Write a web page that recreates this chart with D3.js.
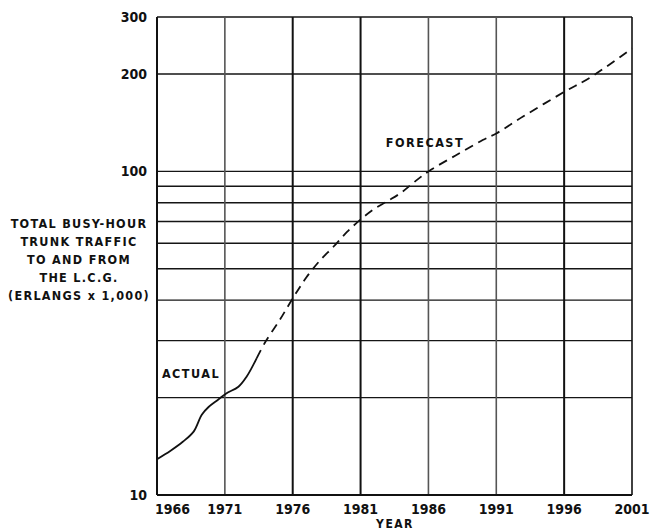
<!DOCTYPE html>
<html>
<head>
<meta charset="utf-8">
<script src="https://cdn.jsdelivr.net/npm/d3@7"></script>
<style>
  body { margin: 0; background: #fff; }
  svg text { font-family: "DejaVu Sans Condensed", "DejaVu Sans", sans-serif; font-weight: bold; fill: #111; }
</style>
</head>
<body>
<svg id="chart" width="652" height="531"></svg>
<script>
// years and traffic (erlangs x 1,000)
var actualYears = [1966, 1967, 1967.9, 1968.7, 1969.3, 1969.8, 1970.5, 1971.1, 1972, 1972.6, 1973.35];
var actualValues = [12.9, 13.7, 14.6, 15.7, 17.7, 18.7, 19.7, 20.6, 21.6, 23.2, 26.5];

var forecastYears = [1973.35, 1974, 1975, 1976, 1977, 1978, 1979, 1980, 1981, 1982, 1983, 1984, 1985, 1986, 1988, 1990, 1991, 1993, 1996, 1998, 2001];
var forecastValues = [26.5, 29.8, 34.5, 40.5, 47, 53, 58.5, 65, 71, 76.5, 81, 86, 93, 100, 112, 125, 131, 148, 176, 196, 240];

var yearTicks = [1966, 1971, 1976, 1981, 1986, 1991, 1996, 2001];
var valueGrid = [20, 30, 40, 50, 60, 70, 80, 90, 100, 200, 300];
var valueLabels = [10, 100, 200, 300];
var axisTitle = ["TOTAL BUSY-HOUR", "TRUNK TRAFFIC", "TO AND FROM", "THE L.C.G.", "(ERLANGS x 1,000)"];

var plotLeft = 157, plotRight = 632, plotTop = 17, plotBottom = 495;
var svg = d3.select("#chart");

var x = d3.scaleLinear().domain([1966, 2001]).range([plotLeft, plotRight]);
var y = d3.scaleLog().domain([10, 300]).range([plotBottom, plotTop]);

// horizontal grid
svg.append("g")
  .selectAll("line")
  .data(valueGrid)
  .enter()
  .append("line")
  .attr("x1", plotLeft)
  .attr("x2", plotRight)
  .attr("y1", (d) => y(d))
  .attr("y2", (d) => y(d))
  .attr("stroke", "#151515")
  .attr("stroke-width", 1.4);

// vertical grid
svg.append("g")
  .selectAll("line")
  .data(yearTicks.slice(1))
  .enter()
  .append("line")
  .attr("x1", (d) => x(d))
  .attr("x2", (d) => x(d))
  .attr("y1", plotTop)
  .attr("y2", plotBottom)
  .attr("stroke", (d) => (d == 1971 || d == 1986 || d == 1991 ? "#555" : "#111"))
  .attr("stroke-width", (d) => (d == 1976 || d == 1981 || d == 1996 ? 2 : 1.6));

// left and bottom axis lines
svg.append("line")
  .attr("x1", plotLeft).attr("x2", plotLeft)
  .attr("y1", plotTop).attr("y2", plotBottom)
  .attr("stroke", "#111").attr("stroke-width", 2);
svg.append("line")
  .attr("x1", plotLeft).attr("x2", plotRight)
  .attr("y1", plotBottom).attr("y2", plotBottom)
  .attr("stroke", "#111").attr("stroke-width", 2);

// y labels
svg.append("g")
  .selectAll("text")
  .data(valueLabels)
  .enter()
  .append("text")
  .attr("x", plotLeft - 10)
  .attr("y", (d) => y(d))
  .attr("dy", "0.36em")
  .attr("text-anchor", "end")
  .attr("font-size", 14)
  .text((d) => d);

// x labels
svg.append("g")
  .selectAll("text")
  .data(yearTicks)
  .enter()
  .append("text")
  .attr("x", (d) => (d == 1966 ? x(d) - 2 : x(d)))
  .attr("y", plotBottom + 14)
  .attr("dy", "0.36em")
  .attr("text-anchor", (d) => (d == 1966 ? "start" : "middle"))
  .attr("font-size", 14)
  .text((d) => d);

svg.append("text")
  .attr("x", 395)
  .attr("y", 528)
  .attr("text-anchor", "middle")
  .attr("font-size", 12)
  .attr("letter-spacing", 1.5)
  .text("YEAR");

svg.append("g")
  .selectAll("text")
  .data(axisTitle)
  .enter()
  .append("text")
  .attr("x", 79)
  .attr("y", (d, i) => 223 + i * 18)
  .attr("dy", "0.36em")
  .attr("text-anchor", "middle")
  .attr("font-size", 12.5)
  .attr("letter-spacing", 1.3)
  .text((d) => d);

var line = d3
  .line()
  .x((d) => x(d[0]))
  .y((d) => y(d[1]))
  .curve(d3.curveCatmullRom);

svg.append("path")
  .datum(d3.zip(actualYears, actualValues))
  .attr("d", line)
  .attr("fill", "none")
  .attr("stroke", "#111")
  .attr("stroke-width", 1.8);

svg.append("path")
  .datum(d3.zip(forecastYears, forecastValues))
  .attr("d", line)
  .attr("fill", "none")
  .attr("stroke", "#111")
  .attr("stroke-width", 1.8)
  .attr("stroke-dasharray", "9,6");

svg.append("text")
  .attr("x", 191)
  .attr("y", 373)
  .attr("dy", "0.36em")
  .attr("text-anchor", "middle")
  .attr("font-size", 12.5)
  .attr("letter-spacing", 1.5)
  .text("ACTUAL");

svg.append("text")
  .attr("x", 425)
  .attr("y", 142)
  .attr("dy", "0.36em")
  .attr("text-anchor", "middle")
  .attr("font-size", 12.5)
  .attr("letter-spacing", 1.5)
  .text("FORECAST");
</script>
</body>
</html>
